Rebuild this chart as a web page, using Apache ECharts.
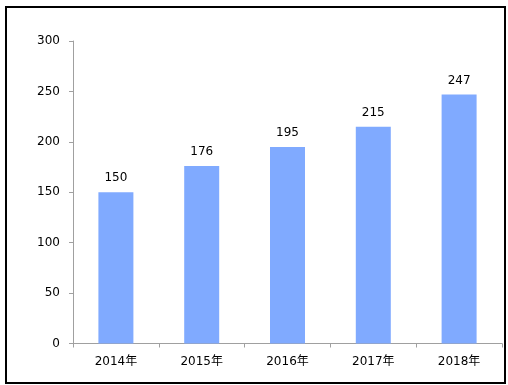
<!DOCTYPE html>
<html><head><meta charset="utf-8">
<script src="https://cdn.jsdelivr.net/npm/echarts@6/dist/echarts.min.js"></script>
<style>
html,body{margin:0;padding:0;background:#fff;}
#frame{position:absolute;left:5px;top:6px;width:497px;height:374px;border:2px solid #000;}
#c{position:absolute;left:0;top:0;width:508px;height:385px;}
</style></head>
<body>
<div id="frame"></div>
<div id="c"></div>
<script>
const categories = ['2014年','2015年','2016年','2017年','2018年'];
const values = [150, 176, 195, 215, 247];
const yTicks = [0, 50, 100, 150, 200, 250, 300];

const chart = echarts.init(document.getElementById('c'));
const font = '"DejaVu Sans", Verdana, "Noto Sans CJK SC", sans-serif';
chart.setOption({
  animation: false,
  grid: {left: 73, right: 6, top: 41, bottom: 41.5},
  xAxis: {
    type: 'category', data: categories,
    axisLine: {lineStyle: {color: '#a0a0a0', width: 1}},
    axisTick: {show: true, length: 4, alignWithLabel: false, lineStyle: {color: '#a0a0a0'}},
    axisLabel: {color: '#000', fontSize: 12, fontFamily: font, margin: 12}
  },
  yAxis: {
    type: 'value', min: yTicks[0], max: yTicks[yTicks.length-1], interval: 50,
    axisLine: {show: true, lineStyle: {color: '#a0a0a0', width: 1}},
    axisTick: {show: true, length: 4, lineStyle: {color: '#a0a0a0'}},
    splitLine: {show: false},
    axisLabel: {color: '#000', fontSize: 12, fontFamily: font, margin: 13}
  },
  series: [{
    type: 'bar', data: values, barWidth: 35,
    itemStyle: {color: '#80aaff'},
    label: {show: true, position: 'top', distance: 8, color: '#000', fontSize: 12, fontFamily: font}
  }]
});
</script>
</body></html>
